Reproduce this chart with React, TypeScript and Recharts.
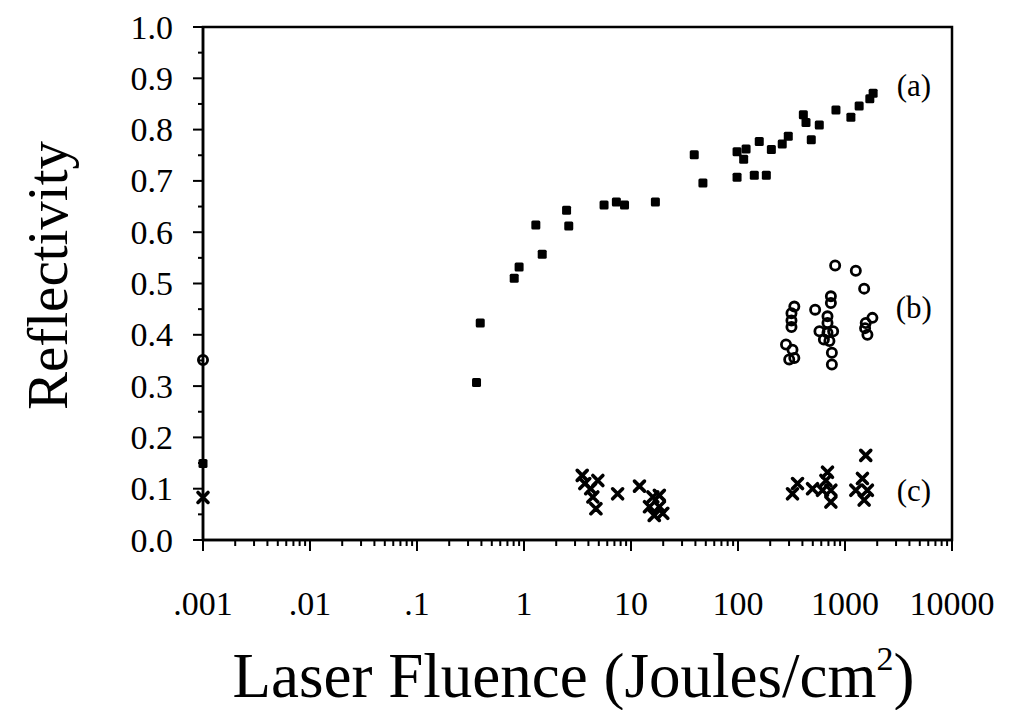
import { ScatterChart, Scatter, XAxis, YAxis, ReferenceArea, ReferenceDot, Label } from 'recharts'

const serif = '"Liberation Serif", "Times New Roman", Times, serif'

// (a) filled squares
const fluenceA = [0.001, 0.36, 0.39, 0.81, 0.9, 1.48, 1.29, 2.62, 2.5, 5.6, 7.3, 8.7, 16.9, 39, 47, 98, 142, 184, 98, 119, 113, 158, 205, 259, 295, 484, 408, 432, 575, 823, 1135, 1356, 1706, 1832]
const reflA = [0.149, 0.307, 0.423, 0.51, 0.532, 0.557, 0.614, 0.612, 0.643, 0.653, 0.659, 0.653, 0.659, 0.751, 0.696, 0.707, 0.711, 0.711, 0.757, 0.762, 0.742, 0.777, 0.761, 0.772, 0.787, 0.78, 0.829, 0.814, 0.809, 0.838, 0.824, 0.846, 0.86, 0.871]

// (b) open circles
const fluenceB = [0.001, 809, 1262, 1510, 738, 738, 336, 316, 316, 316, 526, 686, 686, 577, 686, 775, 635, 715, 281, 323, 301, 336, 754, 754, 1803, 1563, 1541, 1620]
const reflB = [0.351, 0.535, 0.525, 0.49, 0.475, 0.462, 0.455, 0.442, 0.428, 0.415, 0.449, 0.436, 0.423, 0.407, 0.404, 0.407, 0.391, 0.388, 0.381, 0.371, 0.352, 0.355, 0.365, 0.342, 0.433, 0.423, 0.413, 0.4]

// (c) crosses
const fluenceC = [0.001, 3.5, 3.7, 4.9, 4.2, 4.4, 4.7, 7.5, 12, 16, 18.4, 14.9, 18.4, 19.8, 16.5, 360, 323, 497, 686, 663, 738, 616, 738, 1563, 1455, 1262, 1620, 1510]
const reflC = [0.083, 0.126, 0.11, 0.116, 0.1, 0.084, 0.061, 0.09, 0.105, 0.084, 0.087, 0.065, 0.065, 0.052, 0.048, 0.11, 0.09, 0.1, 0.132, 0.116, 0.097, 0.097, 0.074, 0.165, 0.12, 0.097, 0.097, 0.078]

const xMajor = [0.001, 0.01, 0.1, 1, 10, 100, 1000, 10000]
const xMajorLabels = ['.001', '.01', '.1', '1', '10', '100', '1000', '10000']
const yTicks = [0, 0.05, 0.1, 0.15, 0.2, 0.25, 0.3, 0.35, 0.4, 0.45, 0.5, 0.55, 0.6, 0.65, 0.7, 0.75, 0.8, 0.85, 0.9, 0.95, 1]

const xMinor: number[] = []
xMajor.slice(0, -1).forEach((d) => {
  for (let m = 2; m <= 9; m++) xMinor.push(d * m)
})
const xTicks = [...xMajor, ...xMinor]

const toPoints = (xs: number[], ys: number[]) => xs.map((x, i) => ({ x, y: ys[i] }))
const dataA = toPoints(fluenceA, reflA)
const dataB = toPoints(fluenceB, reflB)
const dataC = toPoints(fluenceC, reflC)

function XTick({ x, y, payload }: any) {
  const i = xMajor.indexOf(payload.value)
  const major = i >= 0
  return (
    <g>
      <line x1={x} x2={x} y1={y} y2={y + (major ? 11 : 6)} stroke="#000" strokeWidth={2} />
      {major && (
        <text x={x} y={y + 75} textAnchor="middle" fontSize={34} fontFamily={serif} fill="#000">
          {xMajorLabels[i]}
        </text>
      )}
    </g>
  )
}

function YTick({ x, y, payload }: any) {
  const v = payload.value as number
  const major = Math.round(v * 20) % 2 === 0
  return (
    <g>
      <line x1={x} x2={x - (major ? 10 : 5)} y1={y} y2={y} stroke="#000" strokeWidth={2} />
      {major && (
        <text x={x - 30} y={y} textAnchor="end" dominantBaseline="central" fontSize={34} fontFamily={serif} fill="#000">
          {v.toFixed(1)}
        </text>
      )}
    </g>
  )
}

const square = ({ cx, cy }: any) => <rect x={cx - 4.5} y={cy - 4.5} width={9} height={9} rx={1.5} fill="#000" />
const ring = ({ cx, cy }: any) => <circle cx={cx} cy={cy} r={4.6} fill="none" stroke="#000" strokeWidth={2.8} />
const cross = ({ cx, cy }: any) => (
  <path
    d={`M${cx - 5},${cy - 5}L${cx + 5},${cy + 5}M${cx + 5},${cy - 5}L${cx - 5},${cy + 5}`}
    stroke="#000"
    strokeWidth={3.6}
    strokeLinecap="round"
  />
)

const seriesLabel = (text: string) => ({
  value: text,
  position: 'center' as const,
  fontSize: 31,
  fontFamily: serif,
  fill: '#000',
})

export default function App() {
  return (
    <div style={{ position: 'absolute', left: 0, top: 0, background: '#fff' }}>
      <ScatterChart width={1017} height={710} margin={{ top: 27, right: 65, bottom: 0, left: 0 }}>
        <XAxis
          dataKey="x"
          type="number"
          scale="log"
          domain={[0.001, 10000]}
          ticks={xTicks}
          interval={0}
          tick={<XTick />}
          tickLine={false}
          tickSize={0}
          tickMargin={0}
          height={170}
          axisLine={{ stroke: '#000', strokeWidth: 2.5 }}
        >
          <Label
            content={({ viewBox }: any) => (
              <text
                x={viewBox.x + viewBox.width / 2 - 4}
                y={viewBox.y + 157}
                textAnchor="middle"
                fontSize={63}
                fontFamily={serif}
                fill="#000"
              >
                Laser Fluence (Joules/cm
                <tspan dy={-27} fontSize={34}>2</tspan>
                <tspan dy={27}>)</tspan>
              </text>
            )}
          />
        </XAxis>
        <YAxis
          dataKey="y"
          type="number"
          domain={[0, 1]}
          ticks={yTicks}
          interval={0}
          tick={<YTick />}
          tickLine={false}
          tickSize={0}
          tickMargin={0}
          width={203}
          axisLine={{ stroke: '#000', strokeWidth: 2.5 }}
        >
          <Label
            content={({ viewBox }: any) => {
              const cx = viewBox.x + 47
              const cy = viewBox.y + viewBox.height / 2 - 8
              return (
                <text
                  x={cx}
                  y={cy}
                  transform={`rotate(-90 ${cx} ${cy})`}
                  textAnchor="middle"
                  dominantBaseline="central"
                  fontSize={57}
                  fontFamily={serif}
                  fill="#000"
                >
                  Reflectivity
                </text>
              )
            }}
          />
        </YAxis>
        <ReferenceArea x1={0.001} x2={10000} y1={0} y2={1} fill="none" stroke="#000" strokeWidth={2.5} />
        <Scatter data={dataA} shape={square} isAnimationActive={false} />
        <Scatter data={dataB} shape={ring} isAnimationActive={false} />
        <Scatter data={dataC} shape={cross} isAnimationActive={false} />
        <ReferenceDot x={4400} y={0.886} r={0} fill="none" stroke="none" label={seriesLabel('(a)')} />
        <ReferenceDot x={4400} y={0.455} r={0} fill="none" stroke="none" label={seriesLabel('(b)')} />
        <ReferenceDot x={4400} y={0.097} r={0} fill="none" stroke="none" label={seriesLabel('(c)')} />
      </ScatterChart>
    </div>
  )
}
